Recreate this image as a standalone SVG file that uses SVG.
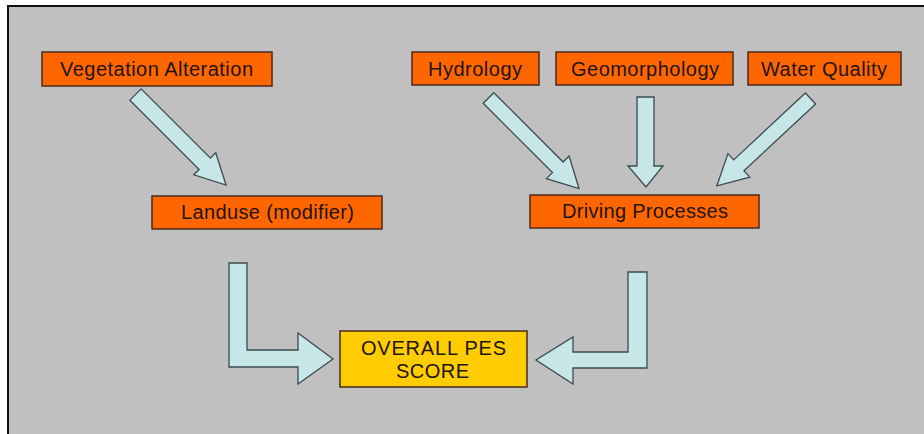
<svg xmlns="http://www.w3.org/2000/svg" width="924" height="434" viewBox="0 0 924 434">
<style>
.bg{fill:#c0c0c0}
.frame{stroke:#111;stroke-width:2;fill:none}
.box{fill:#ff6600;stroke:#4a2a1a;stroke-width:1.5}
.ybox{fill:#ffcc00;stroke:#4a2a1a;stroke-width:1.5}
.lbl{font-family:"Liberation Sans",Arial,sans-serif;font-size:20px;fill:#1e1410;text-anchor:middle}
.arr{fill:#c6e6e8;stroke:#3a4a50;stroke-width:1.3;stroke-linejoin:miter}
</style>
<rect width="924" height="434" fill="#ffffff"/>
<rect x="8" y="6" width="916" height="428" class="bg"/>
<path d="M8,434 V6 H924" class="frame"/>
<g id="connectors">
<polygon class="arr" points="0,-8 98,-8 98,-15.5 128,0 98,15.5 98,8 0,8" transform="translate(135.5,94.5) rotate(45)"/>
<polygon class="arr" points="0,-7.5 98,-7.5 98,-16 128,0 98,16 98,7.5 0,7.5" transform="translate(488.5,98) rotate(45)"/>
<polygon class="arr" points="637,97 654,97 654,166 663,166 646,187 628,166 637,166"/>
<polygon class="arr" points="0,-7.5 98,-7.5 98,-16 128,0 98,16 98,7.5 0,7.5" transform="translate(810.5,98.5) rotate(137)"/>
<polygon class="arr" points="229,263 247,263 247,350 298,350 298,333 333,359 298,384 298,367 229,367"/>
<polygon class="arr" points="647,272 628,272 628,352 573,352 573,337 536,360 573,384 573,368 647,368"/>
</g>
<g id="vegetation">
<rect class="box" x="42" y="52" width="230" height="34"/>
<text class="lbl" x="156.5" y="76" textLength="193" lengthAdjust="spacing">Vegetation Alteration</text>
</g>
<g id="hydrology">
<rect class="box" x="412" y="52" width="127" height="33"/>
<text class="lbl" x="475" y="76" textLength="94" lengthAdjust="spacing">Hydrology</text>
</g>
<g id="geomorphology">
<rect class="box" x="556" y="52" width="177" height="33"/>
<text class="lbl" x="645" y="76" textLength="148" lengthAdjust="spacing">Geomorphology</text>
</g>
<g id="waterquality">
<rect class="box" x="748" y="52" width="153" height="33"/>
<text class="lbl" x="824" y="76" textLength="126" lengthAdjust="spacing">Water Quality</text>
</g>
<g id="landuse">
<rect class="box" x="152" y="196" width="230" height="33"/>
<text class="lbl" x="267.5" y="219" textLength="173" lengthAdjust="spacing">Landuse (modifier)</text>
</g>
<g id="driving">
<rect class="box" x="530" y="195" width="229" height="33"/>
<text class="lbl" x="645" y="218" textLength="166" lengthAdjust="spacing">Driving Processes</text>
</g>
<g id="overall">
<rect class="ybox" x="340" y="331" width="187" height="56"/>
<text class="lbl" x="433.5" y="355" textLength="145" lengthAdjust="spacing">OVERALL PES</text>
<text class="lbl" x="432.5" y="378" textLength="73" lengthAdjust="spacing">SCORE</text>
</g>
</svg>
